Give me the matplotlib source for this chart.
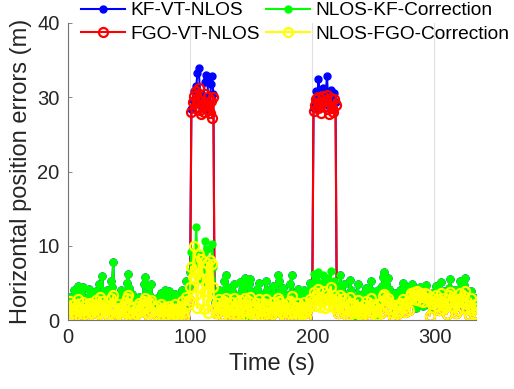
import matplotlib.pyplot as plt
import numpy as np

plt.rcParams['font.family'] = ['Liberation Sans', 'DejaVu Sans']

# time axis (s), 1 Hz
t = np.arange(335)

# NLOS-KF-Correction
kf_corr = np.array([
    1.2, 2.5, 3.1, 1.8, 2.9, 4.0, 2.2, 3.4, 4.6, 2.7, 1.9, 3.8, 4.5, 2.4, 3.0, 1.6, 2.8, 4.2, 3.3, 2.1,
    3.6, 1.4, 2.6, 3.9, 2.0, 4.8, 3.2, 2.3, 5.9, 3.5, 1.7, 2.9, 4.1, 2.5, 3.7, 5.2, 4.4, 7.8, 3.0, 2.2,
    1.8, 3.3, 2.6, 4.0, 2.1, 1.5, 2.9, 3.8, 5.0, 6.2, 4.3, 2.7, 3.5, 2.0, 1.6, 2.4, 1.9, 2.8, 3.1, 2.2,
    1.5, 2.6, 4.9, 5.8, 3.4, 2.7, 4.6, 3.2, 4.8, 2.5, 1.9, 2.8, 2.2, 3.0, 1.7, 2.4, 3.6, 2.9, 2.1, 4.1,
    3.3, 2.6, 1.8, 3.9, 2.7, 2.2, 1.6, 2.9, 3.5, 2.4, 1.8, 2.6, 3.1, 4.0, 2.3, 1.9, 3.4, 5.3, 3.8, 4.6,
    6.5, 9.2, 7.8, 8.0, 9.0, 12.5, 8.1, 5.4, 7.0, 8.8, 6.9, 7.5, 10.6, 4.7, 9.6, 6.3, 8.0, 5.5, 10.3, 7.2,
    2.4, 3.6, 1.9, 2.8, 4.1, 3.0, 2.2, 3.5, 5.2, 6.0, 4.4, 3.1, 2.6, 1.8, 3.9, 2.7, 4.8, 3.3, 2.1, 1.6,
    2.9, 5.1, 3.7, 2.4, 4.5, 5.6, 3.2, 0.6, 4.9, 5.5, 3.8, 2.6, 1.9, 3.0, 2.3, 4.2, 5.0, 3.4, 2.5, 1.7,
    2.8, 3.6, 5.3, 4.1, 2.7, 1.9, 3.2, 2.4, 4.6, 3.5, 2.0, 2.9, 6.0, 5.2, 3.8, 2.6, 4.3, 3.1, 2.2, 1.8,
    3.4, 2.6, 4.9, 6.1, 3.7, 2.8, 2.1, 3.5, 4.2, 2.9, 1.7, 2.5, 3.3, 4.0, 2.4, 1.9, 2.7, 3.6, 5.0, 4.1,
    4.6, 6.2, 3.9, 5.4, 4.8, 6.5, 3.7, 5.0, 4.2, 6.0, 3.5, 4.4, 5.7, 3.8, 4.9, 6.6, 4.1, 3.6, 5.3, 4.0,
    3.2, 2.5, 4.4, 6.0, 3.6, 2.8, 4.9, 3.3, 2.2, 1.9, 3.7, 5.4, 4.1, 2.6, 3.0, 0.5, 2.7, 4.8, 3.4, 2.3,
    1.8, 2.9, 3.6, 2.4, 4.3, 3.1, 2.0, 2.7, 5.2, 3.9, 2.6, 3.4, 0.7, 2.2, 4.0, 3.3, 2.5, 4.6, 5.8, 6.5,
    4.9, 3.5, 5.6, 4.2, 3.0, 2.4, 1.9, 2.8, 3.6, 2.1, 3.3, 2.7, 4.1, 3.8, 5.0, 3.2, 2.5, 3.9, 4.4, 3.0,
    2.6, 3.7, 4.8, 3.4, 2.2, 1.6, 3.1, 2.8, 4.5, 3.5, 2.3, 1.9, 3.0, 4.7, 3.6, 2.9, 2.0, 1.8, 3.3, 2.5,
    3.8, 4.6, 2.7, 3.2, 2.1, 5.1, 3.4, 2.4, 3.9, 2.6, 1.9, 3.1, 4.3, 5.5, 3.6, 2.8, 4.0, 3.2, 1.7, 2.3,
    4.2, 5.2, 3.5, 2.6, 4.7, 5.6, 3.3, 2.5, 1.4, 2.8, 3.9, 2.1, 1.6, 3.0, 2.4,
])

# NLOS-FGO-Correction
fgo_corr = np.array([
    0.3, 1.8, 2.6, 0.9, 1.5, 2.2, 0.6, 1.9, 2.8, 1.2, 0.2, 1.6, 2.4, 0.8, 1.3, 2.0, 0.5, 1.7, 2.3, 1.0,
    2.1, 0.4, 1.4, 2.7, 0.9, 1.8, 3.1, 1.1, 2.5, 1.6, 0.3, 1.2, 2.0, 0.7, 1.5, 2.9, 1.9, 3.3, 1.4, 0.6,
    0.9, 2.2, 1.3, 0.4, 1.7, 0.5, 1.1, 2.4, 2.9, 3.4, 2.0, 1.0, 1.6, 0.6, 0.2, 1.4, 0.8, 1.9, 2.3, 1.2,
    0.4, 1.5, 2.6, 3.0, 1.8, 0.9, 2.4, 1.3, 2.7, 1.1, 0.3, 1.6, 0.8, 1.9, 0.5, 1.2, 2.2, 1.5, 0.4, 1.8,
    1.4, 0.7, 0.2, 1.9, 1.2, 0.6, 0.3, 1.5, 2.1, 1.0, 0.4, 1.3, 1.8, 2.5, 0.9, 0.5, 1.6, 3.1, 2.2, 2.7,
    4.5, 7.2, 5.8, 10.0, 6.3, 3.4, 1.6, 8.9, 5.5, 8.2, 6.6, 1.5, 3.9, 4.8, 7.7, 0.9, 8.1, 2.6, 7.5, 4.4,
    1.6, 0.9, 2.3, 1.1, 2.8, 1.7, 0.7, 1.4, 2.6, 3.0, 2.1, 1.2, 0.5, 1.0, 2.4, 1.5, 2.9, 1.8, 0.8, 0.4,
    1.3, 2.7, 1.9, 0.6, 2.2, 2.9, 1.4, 0.3, 2.5, 3.1, 1.7, 1.0, 0.4, 1.6, 0.9, 2.3, 2.8, 1.5, 0.7, 0.2,
    1.2, 1.9, 2.8, 2.1, 1.0, 0.5, 1.7, 0.8, 2.4, 1.6, 0.4, 1.3, 2.9, 2.5, 1.8, 0.9, 2.2, 1.4, 0.6, 0.3,
    1.5, 0.9, 2.6, 3.2, 1.9, 1.1, 0.5, 1.6, 2.3, 1.2, 0.2, 0.8, 1.7, 2.4, 1.0, 0.4, 1.3, 1.9, 2.8, 2.2,
    2.6, 3.8, 1.9, 3.3, 2.7, 4.2, 1.8, 3.0, 2.4, 3.9, 1.6, 2.8, 3.5, 2.0, 3.1, 4.5, 2.5, 1.7, 3.4, 2.3,
    1.5, 0.9, 2.6, 3.4, 1.8, 1.2, 2.9, 1.6, 0.7, 0.4, 2.0, 3.1, 2.3, 1.0, 1.4, 0.3, 1.1, 2.7, 1.7, 0.8,
    0.5, 1.3, 2.0, 0.9, 2.5, 1.6, 0.6, 1.2, 2.9, 2.1, 1.1, 1.8, 0.3, 0.7, 2.2, 1.5, 0.9, 2.6, 3.2, 3.5,
    2.7, 1.9, 3.0, 2.4, 1.5, 1.0, 0.4, 1.3, 2.0, 0.8, 1.7, 1.2, 2.3, 2.1, 2.8, 1.6, 1.1, 2.2, 2.6, 1.4,
    3.2, 3.6, 2.9, 3.8, 3.4, 2.7, 3.9, 3.3, 2.5, 3.6, 3.1, 2.4, 3.7, 2.9, 3.5, 2.8, 0.6, 2.3, 3.0, 2.2,
    2.6, 3.4, 1.9, 2.8, 1.3, 3.6, 2.4, 1.5, 2.9, 1.8, 0.8, 2.2, 3.3, 3.8, 2.5, 1.7, 2.9, 2.3, 0.9, 1.4,
    2.8, 3.7, 2.4, 1.6, 3.2, 3.9, 2.1, 1.5, 0.7, 1.9, 2.9, 1.3, 0.8, 2.2, 1.6,
])

# VT-NLOS errors during the two NLOS windows (t = 101..119 and 201..219)
kf_vt_win1 = [28.4, 29.6, 30.8, 29.2, 31.5, 33.2, 34.0, 30.6, 29.0, 28.5,
              30.2, 32.0, 33.0, 32.6, 29.4, 28.2, 31.8, 32.9, 30.4]
fgo_vt_win1 = [28.0, 29.4, 30.2, 28.6, 30.9, 29.8, 31.2, 28.3, 27.8, 29.1,
               28.0, 30.5, 29.2, 28.4, 30.0, 27.9, 29.5, 27.2, 30.1]
kf_vt_win2 = [28.6, 29.4, 30.8, 29.0, 32.4, 30.1, 28.5, 29.7, 31.3, 29.2,
              30.5, 32.9, 29.6, 28.8, 31.0, 29.9, 28.4, 30.6, 29.3]
fgo_vt_win2 = [28.2, 29.0, 29.8, 28.5, 30.1, 28.9, 27.9, 29.4, 30.2, 28.7,
               29.6, 30.3, 28.4, 27.8, 29.9, 28.6, 28.0, 29.7, 28.9]

kf_vt = kf_corr.copy()
kf_vt[101:120] = kf_vt_win1
kf_vt[201:220] = kf_vt_win2
fgo_vt = fgo_corr.copy()
fgo_vt[101:120] = fgo_vt_win1
fgo_vt[201:220] = fgo_vt_win2

fig = plt.figure(figsize=(5.14, 3.89), dpi=100)
ax = fig.add_axes([68 / 514, 69 / 389, 408 / 514, 297 / 389])

l1, = ax.plot(t, kf_vt, color='b', lw=1.5, marker='o', ms=5)
l2, = ax.plot(t, fgo_vt, color='r', lw=1.5, marker='o', ms=6.5, mfc='none', mew=1.6)
l3, = ax.plot(t, kf_corr, color='#00ff00', lw=1.5, marker='o', ms=5)
l4, = ax.plot(t, fgo_corr, color='#ffff00', lw=1.5, marker='o', ms=6.5, mfc='none', mew=1.6)

ax.set_xlim(0, 334)
ax.set_ylim(0, 40)
ax.set_xticks([0, 100, 200, 300])
ax.set_yticks([0, 10, 20, 30, 40])
ax.xaxis.grid(True, color='0.88', lw=0.8)
ax.set_axisbelow(True)

ax.spines['right'].set_color('none')
ax.spines['top'].set_color('none')
ax.spines['left'].set_color('0.45')
ax.spines['bottom'].set_color('0.45')
ax.tick_params(direction='in', length=3, width=0.6, color='0.45',
               labelsize=14.5, labelcolor='0.15', pad=6)

ax.set_xlabel('Time (s)', fontsize=17, color='0.15')
ax.set_ylabel('Horizontal position errors (m)', fontsize=17, color='0.15')

fig.legend(handles=[l1, l2, l3, l4],
           labels=['KF-VT-NLOS', 'FGO-VT-NLOS', 'NLOS-KF-Correction', 'NLOS-FGO-Correction'],
           loc='upper left', bbox_to_anchor=(81 / 514, 1 - 2 / 389), ncol=2, frameon=False,
           fontsize=13.8, borderpad=0, borderaxespad=0, handlelength=2.3, handletextpad=0.25,
           columnspacing=0.35, labelspacing=0.3)

fig.savefig('out.png', dpi=100)
